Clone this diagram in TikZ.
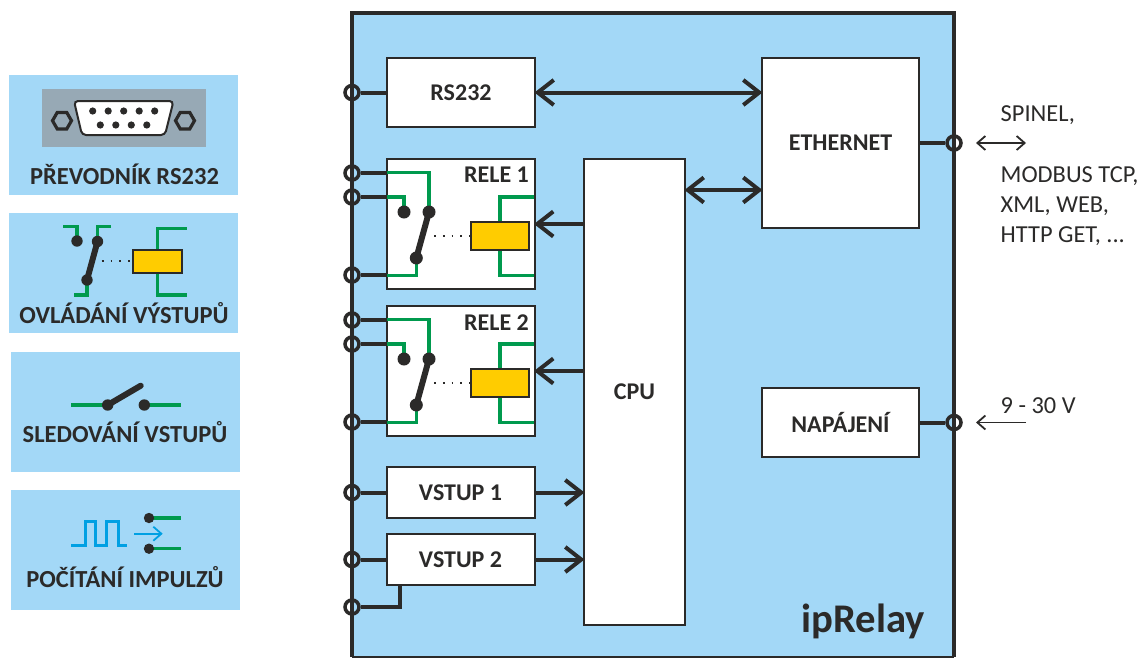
\documentclass[tikz,border=0pt]{standalone}
\usepackage{fontspec}
\setmainfont{Carlito}
\usetikzlibrary{arrows.meta,calc,shapes.geometric}
\definecolor{ink}{HTML}{2B2A29}
\definecolor{sky}{HTML}{A3D8F7}
\definecolor{grn}{HTML}{009A4E}
\definecolor{ylw}{HTML}{FFCC00}
\definecolor{pulse}{HTML}{00A0E3}
\definecolor{slate}{HTML}{97A9B5}
\tikzset{
 blk/.style={draw=ink,fill=white,line width=2pt,inner sep=0pt,font=\fontsize{24}{24}\selectfont\bfseries,text=ink},
 panel/.style={fill=sky,draw=none,minimum width=229pt,minimum height=120pt,inner sep=0pt},
 paneltext/.style={font=\fontsize{24.5}{24.5}\selectfont\bfseries,text=ink,inner sep=0pt,anchor=base},
 term/.style={circle,draw=ink,line width=3.5pt,minimum size=14pt,inner sep=0pt},
 wire/.style={draw=ink,line width=4pt},
 gw/.style={draw=grn,line width=3.3pt},
 lever/.style={draw=ink,line width=6pt,line cap=round},
 relay/.style={draw=ink,fill=ylw,line width=1.8pt,inner sep=0pt},
 big/.style={wire,shorten >=-1.5pt,-{Straight Barb[length=16pt,width=25pt,line width=4pt]}},
 bigb/.style={wire,shorten >=-1.5pt,shorten <=-1.5pt,{Straight Barb[length=16pt,width=25pt,line width=4pt]}-{Straight Barb[length=16pt,width=25pt,line width=4pt]}},
 thin/.style={draw=ink,line width=1.8pt},
 note/.style={font=\fontsize{24.4}{24.4}\selectfont,text=ink,anchor=base west,inner sep=0pt},
 dotl/.style={draw=ink,line width=1.8pt,dash pattern=on 1.8pt off 7pt},
 hexa/.style={regular polygon,regular polygon sides=6,shape border rotate=0,draw=ink,line width=3.2pt,minimum size=19pt,inner sep=0pt},
 rlab/.style={font=\fontsize{24}{24}\selectfont\bfseries,text=ink,anchor=base east,inner sep=0pt},
}
\begin{document}
\begin{tikzpicture}[x=1pt,y=-1pt]
\useasboundingbox (0,0) rectangle (1139,659);
% side panels
\node[panel] (p1) at (123.5,135) {};
\node[panel] (p2) at (123.5,273) {};
\node[panel] (p3) at (125,412) {};
\node[panel] (p4) at (125,550) {};
\node[paneltext] (l1) at (124.5,184) {PŘEVODNÍK RS232};
\node[paneltext] (l2) at (124,323) {OVLÁDÁNÍ VÝSTUPŮ};
\node[paneltext] (l3) at (125,442) {SLEDOVÁNÍ VSTUPŮ};
\node[paneltext] (l4) at (125,587) {POČÍTÁNÍ IMPULZŮ};
% connector icon
\fill[slate] (42,89) rectangle (206,147);
\draw[ink,fill=white,line width=2pt,rounded corners=4pt] (74,101) -- (173.5,101) -- (165,135) -- (82,135) -- cycle;
\foreach \x in {92.7,108.2,123.7,139.2,154.7} \fill[ink] (\x,111) circle (3.6pt);
\foreach \x in {100.3,115.8,131.3,146.8} \fill[ink] (\x,125) circle (3.6pt);
\node[hexa] (h1) at (62,120.7) {};
\node[hexa] (h2) at (185,120.7) {};
% relay icon
\draw[gw] (63.3,226.7) -- (77,226.7) -- (77,241);
\draw[gw] (111,226.7) -- (97.3,226.7) -- (97.3,241);
\draw[gw] (87,280) -- (87,295) -- (74,295);
\draw[gw] (186.7,228.7) -- (157.3,228.7) -- (157.3,250);
\draw[gw] (157.3,273) -- (157.3,295) -- (186.7,295);
\draw[lever] (97.5,241.5) -- (87,280);
\fill[ink] (77,241) circle (5.7pt) (97.5,241.5) circle (5.7pt) (87,280) circle (5.7pt);
\draw[dotl] (101.7,261.3) -- (132,261.3);
\draw[relay] (132.7,250) rectangle (182,273.3);
% input icon
\draw[gw] (71,405) -- (107,405);
\draw[gw] (144,405) -- (181.3,405);
\draw[lever] (107.7,405) -- (140.7,385.7);
\fill[ink] (107.7,405) circle (5.7pt) (144.3,405) circle (5.7pt);
% pulse icon
\draw[pulse,line width=3pt] (71,545) -- (85,545) -- (85,521.7) -- (95,521.7) -- (95,545) -- (106,545) -- (106,521.7) -- (118.3,521.7) -- (118.3,545) -- (127.3,545);
\draw[pulse,line width=1.8pt,-{Straight Barb[length=8pt,width=14pt,line width=1.8pt]}] (134,533.7) -- (162.7,533.7);
\draw[gw] (149,518) -- (181.3,518);
\draw[gw] (149,548.7) -- (181.3,548.7);
\fill[ink] (149,518) circle (5.2pt) (149,548.7) circle (5.2pt);
% main body
\node[fill=sky,draw=none,minimum width=602pt,minimum height=644pt,inner sep=0pt] (body) at (653,335) {};
\draw[ink,line width=2pt] (body.south west) -- (body.south east);
\draw[ink,line width=4.5pt] (body.south west) -- (body.north west) -- (body.north east) -- (body.south east);
% blocks
\node[blk,minimum width=148pt,minimum height=69pt] (rs) at (461,92.5) {RS232};
\node[blk,minimum width=157pt,minimum height=170pt] (eth) at (840.5,143) {ETHERNET};
\node[blk,minimum width=157pt,minimum height=69pt] (nap) at (840.5,422.5) {NAPÁJENÍ};
\node[blk,minimum width=101pt,minimum height=466pt] (cpu) at (634.5,392) {CPU};
\node[blk,minimum width=148pt,minimum height=130pt] (r1) at (460.5,224) {};
\node[blk,minimum width=148pt,minimum height=130pt] (r2) at (460.5,371) {};
\node[blk,minimum width=148pt,minimum height=51pt] (v1) at (460.5,492.5) {VSTUP 1};
\node[blk,minimum width=148pt,minimum height=51pt] (v2) at (460.5,559.5) {VSTUP 2};
\node[rlab] (rl1) at (529,182.7) {RELE 1};
\node[rlab] (rl2) at (529,330) {RELE 2};
\node[font=\fontsize{40.7}{40.7}\selectfont\bfseries,text=ink,anchor=base east,inner sep=0pt] (ip) at (925,632) {ipRelay};
% terminals
\node[term] (trs) at (352,92.5) {};
\node[term] (ta1) at (352,173) {};
\node[term] (tb1) at (352,197) {};
\node[term] (tc1) at (352,275) {};
\node[term] (ta2) at (352,320) {};
\node[term] (tb2) at (352,344) {};
\node[term] (tc2) at (352,422) {};
\node[term] (tv1) at (352,492.5) {};
\node[term] (tv2) at (352,559.5) {};
\node[term] (tv3) at (352,607) {};
\node[term] (teth) at (954,143) {};
\node[term] (tnap) at (954,422.5) {};
% wires
\draw[wire] (trs) -- (rs);
\draw[wire] (ta1) -- (ta1 -| r1.west);
\draw[wire] (tb1) -- (tb1 -| r1.west);
\draw[wire] (tc1) -- (tc1 -| r1.west);
\draw[wire] (ta2) -- (ta2 -| r2.west);
\draw[wire] (tb2) -- (tb2 -| r2.west);
\draw[wire] (tc2) -- (tc2 -| r2.west);
\draw[wire] (tv1) -- (v1);
\draw[wire] (tv2) -- (v2);
\draw[wire] (tv3) -| ($(v2.south west)!0.095!(v2.south east)$);
\draw[wire] (eth) -- (teth);
\draw[wire] (nap) -- (tnap);
% big arrows
\draw[bigb] (rs.east) -- (rs.east -| eth.west);
\coordinate (ce) at (685,190);
\draw[bigb] (ce -| cpu.east) -- (ce -| eth.west);
\draw[big] (r1.east -| cpu.west) -- (r1.east);
\draw[big] (r2.east -| cpu.west) -- (r2.east);
\draw[big] (v1) -- (v1 -| cpu.west);
\draw[big] (v2) -- (v2 -| cpu.west);
% relay insides
\foreach \d/\n in {0/r1,147/r2}{
 \begin{scope}[yshift=-\d pt]
 \draw[gw] (386.7,172.7) -- (429,172.7) -- (429,212);
 \draw[gw] (386.7,197) -- (404,197) -- (404,212);
 \draw[gw] (416.3,258) -- (416.3,275.3) -- (386.7,275.3);
 \draw[gw] (534,197) -- (500,197) -- (500,222);
 \draw[gw] (500,250) -- (500,275.3) -- (534,275.3);
 \draw[lever] (429,212) -- (416.3,258);
 \fill[ink] (404,212) circle (6.5pt) (429,212) circle (6.5pt) (416.3,258) circle (6.5pt);
 \draw[dotl] (434,236) -- (470,236);
 \draw[relay] (470.7,222) rectangle (529,250);
 \end{scope}
}
% right side
\coordinate (a1) at (976,143);
\coordinate (a2) at (1026,143);
\coordinate (a3) at (976,422.5);
\coordinate (a4) at (1026,422.5);
\draw[thin,{Straight Barb[length=8pt,width=14pt,line width=1.8pt]}-{Straight Barb[length=8pt,width=14pt,line width=1.8pt]}] (a1) -- (a2);
\draw[thin,-{Straight Barb[length=8pt,width=14pt,line width=1.8pt]}] (a4) -- (a3);
\node[note] (n1) at (1000.5,121) {SPINEL,};
\node[note] (n2) at (1000.5,182.7) {MODBUS TCP,};
\node[note] (n3) at (1000.5,212.7) {XML, WEB,};
\node[note] (n4) at (1000.5,242) {HTTP GET, ...};
\node[note] (n5) at (1000.5,413) {9 - 30 V};
\end{tikzpicture}
\end{document}
